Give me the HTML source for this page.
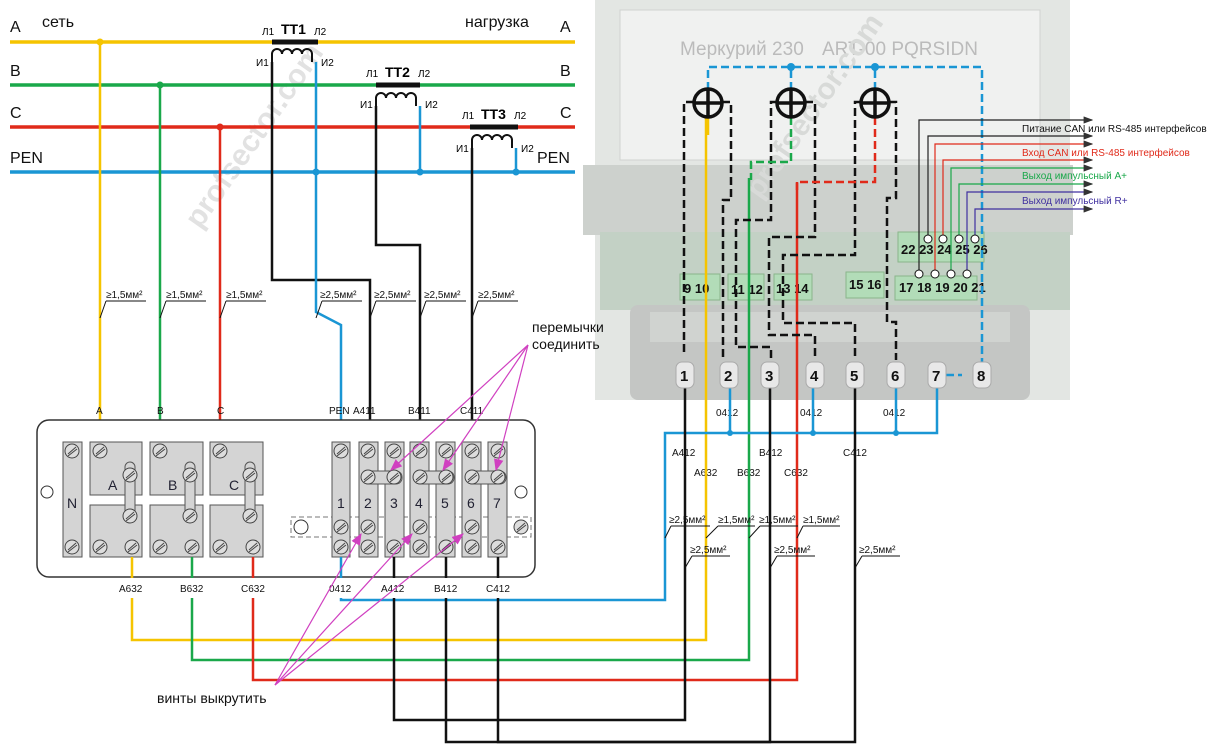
<!DOCTYPE html>
<html><head><meta charset="utf-8"><style>
body{margin:0;background:#fff}
svg{display:block;font-family:"Liberation Sans",sans-serif}
</style></head><body>
<svg width="1211" height="755" viewBox="0 0 1211 755" xmlns="http://www.w3.org/2000/svg">
<defs>
<marker id="ar" markerWidth="8" markerHeight="6" refX="7" refY="3" orient="auto"><path d="M0,0 L8,3 L0,6z" fill="#333"/></marker>
<marker id="am" markerWidth="10" markerHeight="8" refX="9" refY="4" orient="auto"><path d="M0,0 L10,4 L0,8z" fill="#d040c0"/></marker>
<g id="scr"><circle r="7" fill="#ddd" stroke="#444" stroke-width="1"/><line x1="-4" y1="3" x2="4" y2="-4" stroke="#444"/><line x1="-4" y1="5" x2="5" y2="-2" stroke="#444"/></g>
</defs>
<!-- meter photo approximation -->
<rect x="595" y="0" width="475" height="400" fill="#e3e6e3"/>
<rect x="620" y="10" width="420" height="150" fill="#f0f1f0" stroke="#d0d3d0"/>
<rect x="583" y="165" width="490" height="70" fill="#cdd1cd"/>
<rect x="600" y="232" width="470" height="78" fill="#c3d1c5"/>
<rect x="630" y="305" width="400" height="95" rx="8" fill="#c4c6c4"/>
<rect x="650" y="312" width="360" height="30" fill="#d0d3d0"/>
<text x="680" y="55" font-size="19" fill="#bbb">Меркурий 230</text>
<text x="822" y="55" font-size="19" fill="#bbb">ART-00 PQRSIDN</text>
<text x="200" y="230" font-size="30" fill="#e2e2e2" font-weight="bold" transform="rotate(-55 200 230)">profsector.com</text>
<text x="760" y="200" font-size="30" fill="#d8dad8" font-weight="bold" transform="rotate(-55 760 200)">profsector.com</text>
<!-- green connector blocks -->
<g fill="#b2dcb8" stroke="#8ab58a">
<rect x="680" y="274" width="40" height="26"/><rect x="728" y="274" width="36" height="26"/><rect x="774" y="274" width="38" height="26"/><rect x="846" y="272" width="38" height="26"/><rect x="895" y="276" width="82" height="24"/><rect x="898" y="232" width="86" height="30"/></g>
<g font-size="13" font-weight="bold" fill="#111">
<text x="684" y="293">9 10</text><text x="731" y="294">11 12</text><text x="776" y="293">13 14</text><text x="849" y="289">15 16</text><text x="899" y="292">17 18 19 20 21</text><text x="901" y="254">22 23 24 25 26</text></g>
<!-- phase lines -->
<g stroke-width="3.5" fill="none">
<line x1="10" y1="42" x2="575" y2="42" stroke="#f5c400"/>
<line x1="10" y1="85" x2="575" y2="85" stroke="#1aa84a"/>
<line x1="10" y1="127" x2="575" y2="127" stroke="#e02a1a"/>
<line x1="10" y1="172" x2="575" y2="172" stroke="#1a96d4"/>
</g>
<g font-size="16" fill="#111"><text x="10" y="32">A</text><text x="42" y="27">сеть</text><text x="465" y="27">нагрузка</text><text x="560" y="32">A</text>
<text x="10" y="76">B</text><text x="560" y="76">B</text><text x="10" y="118">C</text><text x="560" y="118">C</text><text x="10" y="163">PEN</text><text x="537" y="163">PEN</text></g>
<!-- CTs -->
<g stroke="#111" stroke-width="5"><line x1="272" y1="42" x2="318" y2="42"/><line x1="376" y1="85" x2="420" y2="85"/><line x1="470" y1="127" x2="518" y2="127"/></g>
<g font-size="14" font-weight="bold"><text x="281" y="34">ТТ1</text><text x="385" y="77">ТТ2</text><text x="481" y="119">ТТ3</text></g>
<g font-size="10"><text x="262" y="35">Л1</text><text x="314" y="35">Л2</text><text x="256" y="66">И1</text><text x="321" y="66">И2</text>
<text x="366" y="77">Л1</text><text x="418" y="77">Л2</text><text x="360" y="108">И1</text><text x="425" y="108">И2</text>
<text x="462" y="119">Л1</text><text x="514" y="119">Л2</text><text x="456" y="152">И1</text><text x="521" y="152">И2</text></g>
<g stroke="#111" stroke-width="2" fill="none">
<path d="M272,62 v-8 a5,5 0 0 1 10,0 a5,5 0 0 1 10,0 a5,5 0 0 1 10,0 a5,5 0 0 1 10,0 v8"/>
<path d="M376,106 v-8 a5,5 0 0 1 10,0 a5,5 0 0 1 10,0 a5,5 0 0 1 10,0 a5,5 0 0 1 10,0 v8"/>
<path d="M472,148 v-8 a5,5 0 0 1 10,0 a5,5 0 0 1 10,0 a5,5 0 0 1 10,0 a5,5 0 0 1 10,0 v8"/>
</g>
<g fill="none" stroke-width="2.5">
<path d="M272,62 V280 H370 V442" stroke="#111"/>
<path d="M376,106 V245 H420 V442" stroke="#111"/>
<path d="M472,148 V442" stroke="#111"/>
<path d="M316,62 V312 L341,325 V442" stroke="#1a96d4"/>
<path d="M420,106 V172" stroke="#1a96d4"/>
<path d="M516,148 V172" stroke="#1a96d4"/>
<path d="M100,42 V442" stroke="#f5c400"/>
<path d="M160,85 V442" stroke="#1aa84a"/>
<path d="M220,127 V442" stroke="#e02a1a"/>
</g>
<g fill="#111"><circle cx="100" cy="42" r="3.5" fill="#f5c400"/><circle cx="160" cy="85" r="3.5" fill="#1aa84a"/><circle cx="220" cy="127" r="3.5" fill="#e02a1a"/><circle cx="316" cy="172" r="3.5" fill="#1a96d4"/><circle cx="420" cy="172" r="3.5" fill="#1a96d4"/><circle cx="516" cy="172" r="3.5" fill="#1a96d4"/></g>
<!-- gauge labels -->
<g font-size="10" fill="#111" stroke="#111" stroke-width="1">
<g><line x1="100" y1="318" x2="106" y2="301"/><line x1="106" y1="301" x2="146" y2="301"/><text x="106" y="298" stroke="none">≥1,5мм²</text></g>
<g><line x1="160" y1="318" x2="166" y2="301"/><line x1="166" y1="301" x2="206" y2="301"/><text x="166" y="298" stroke="none">≥1,5мм²</text></g>
<g><line x1="220" y1="318" x2="226" y2="301"/><line x1="226" y1="301" x2="266" y2="301"/><text x="226" y="298" stroke="none">≥1,5мм²</text></g>
<g><line x1="316" y1="318" x2="322" y2="301"/><line x1="322" y1="301" x2="362" y2="301"/><text x="320" y="298" stroke="none">≥2,5мм²</text></g>
<g><line x1="370" y1="318" x2="376" y2="301"/><line x1="376" y1="301" x2="416" y2="301"/><text x="374" y="298" stroke="none">≥2,5мм²</text></g>
<g><line x1="420" y1="318" x2="426" y2="301"/><line x1="426" y1="301" x2="466" y2="301"/><text x="424" y="298" stroke="none">≥2,5мм²</text></g>
<g><line x1="472" y1="318" x2="478" y2="301"/><line x1="478" y1="301" x2="518" y2="301"/><text x="478" y="298" stroke="none">≥2,5мм²</text></g>
</g>
<!-- terminal box -->
<rect x="37" y="420" width="498" height="157" rx="12" fill="#fff" stroke="#333" stroke-width="1.5"/>
<circle cx="47" cy="492" r="6" fill="#fff" stroke="#333"/><circle cx="521" cy="492" r="6" fill="#fff" stroke="#333"/>
<rect x="291" y="517" width="240" height="20" fill="none" stroke="#777" stroke-dasharray="5,3"/>
<circle cx="301" cy="527" r="7" fill="#fff" stroke="#333"/>
<g fill="#d4d4d4" stroke="#555">
<rect x="63" y="442" width="19" height="115"/>
<rect x="90" y="442" width="52" height="53"/><rect x="90" y="505" width="52" height="52"/>
<rect x="150" y="442" width="53" height="53"/><rect x="150" y="505" width="53" height="52"/>
<rect x="210" y="442" width="53" height="53"/><rect x="210" y="505" width="53" height="52"/>
<rect x="332" y="442" width="18" height="115"/><rect x="359" y="442" width="19" height="115"/><rect x="385" y="442" width="19" height="115"/><rect x="410" y="442" width="19" height="115"/><rect x="436" y="442" width="19" height="115"/><rect x="462" y="442" width="19" height="115"/><rect x="488" y="442" width="19" height="115"/>
<rect x="125" y="462" width="10" height="60" rx="5"/><rect x="185" y="462" width="10" height="60" rx="5"/><rect x="245" y="462" width="10" height="60" rx="5"/>
<rect x="362" y="471" width="40" height="13" rx="6"/><rect x="414" y="471" width="40" height="13" rx="6"/><rect x="466" y="471" width="40" height="13" rx="6"/>
</g>
<g>
<use href="#scr" x="72" y="451"/><use href="#scr" x="72" y="547"/>
<use href="#scr" x="100" y="451"/><use href="#scr" x="100" y="547"/><use href="#scr" x="132" y="547"/><use href="#scr" x="130" y="475"/><use href="#scr" x="130" y="516"/>
<use href="#scr" x="160" y="451"/><use href="#scr" x="160" y="547"/><use href="#scr" x="192" y="547"/><use href="#scr" x="190" y="475"/><use href="#scr" x="190" y="516"/>
<use href="#scr" x="220" y="451"/><use href="#scr" x="220" y="547"/><use href="#scr" x="253" y="547"/><use href="#scr" x="250" y="475"/><use href="#scr" x="250" y="516"/>
<use href="#scr" x="341" y="451"/><use href="#scr" x="341" y="527"/><use href="#scr" x="341" y="547"/>
<use href="#scr" x="368" y="451"/><use href="#scr" x="368" y="477"/><use href="#scr" x="368" y="527"/><use href="#scr" x="368" y="547"/>
<use href="#scr" x="394" y="451"/><use href="#scr" x="394" y="477"/><use href="#scr" x="394" y="547"/>
<use href="#scr" x="420" y="451"/><use href="#scr" x="420" y="477"/><use href="#scr" x="420" y="527"/><use href="#scr" x="420" y="547"/>
<use href="#scr" x="446" y="451"/><use href="#scr" x="446" y="477"/><use href="#scr" x="446" y="547"/>
<use href="#scr" x="472" y="451"/><use href="#scr" x="472" y="477"/><use href="#scr" x="472" y="527"/><use href="#scr" x="472" y="547"/>
<use href="#scr" x="498" y="451"/><use href="#scr" x="498" y="477"/><use href="#scr" x="498" y="547"/>
<use href="#scr" x="521" y="527"/>
</g>
<g font-size="14" fill="#223"><text x="67" y="508">N</text><text x="108" y="490">A</text><text x="168" y="490">B</text><text x="229" y="490">C</text>
<text x="337" y="508">1</text><text x="364" y="508">2</text><text x="390" y="508">3</text><text x="415" y="508">4</text><text x="441" y="508">5</text><text x="467" y="508">6</text><text x="493" y="508">7</text></g>
<g font-size="10" fill="#111"><text x="96" y="414">A</text><text x="157" y="414">B</text><text x="217" y="414">C</text><text x="329" y="414">PEN</text><text x="353" y="414">A411</text><text x="408" y="414">B411</text><text x="460" y="414">C411</text>
<text x="119" y="592">A632</text><text x="180" y="592">B632</text><text x="241" y="592">C632</text><text x="329" y="592">0412</text><text x="381" y="592">A412</text><text x="434" y="592">B412</text><text x="486" y="592">C412</text>
<text x="716" y="416">0412</text><text x="800" y="416">0412</text><text x="883" y="416">0412</text>
<text x="672" y="456">A412</text><text x="694" y="476">A632</text><text x="737" y="476">B632</text><text x="759" y="456">B412</text><text x="784" y="476">C632</text><text x="843" y="456">C412</text></g>
<!-- bottom wiring -->
<g fill="none" stroke-width="2.5">
<path d="M132,557 V578 M132,598 V640 H706 V115" stroke="#f5c400"/>
<path d="M192,557 V578 M192,598 V660 H749 V178" stroke="#1aa84a"/>
<path d="M253,557 V578 M253,598 V680 H797 V182" stroke="#e02a1a"/>
<path d="M341,557 V578 M341,598 V600 H665 V433 H937 V372" stroke="#1a96d4"/>
<path d="M394,557 V578 M394,598 V720 H685 V385" stroke="#111"/>
<path d="M446,557 V578 M446,598 V742 H770 V385" stroke="#111"/>
<path d="M498,557 V578 M498,598 V742 H855 V385" stroke="#111"/>
<path d="M730,385 V433 M813,385 V433 M896,385 V433" stroke="#1a96d4"/>
</g>
<g fill="#1a96d4"><circle cx="730" cy="433" r="3"/><circle cx="813" cy="433" r="3"/><circle cx="896" cy="433" r="3"/><circle cx="791" cy="67" r="4"/><circle cx="875" cy="67" r="4"/></g>
<!-- dashed meter wiring -->
<g fill="none" stroke-width="2.5" stroke-dasharray="8,4">
<path d="M708,90 V67 H982 V372" stroke="#1a96d4"/>
<path d="M791,90 V67 M875,90 V67" stroke="#1a96d4"/>
<path d="M946,375 H962" stroke="#1a96d4"/>
<path d="M694,102 H684 V353 M722,102 H731 V200 H723 V360" stroke="#111"/>
<path d="M777,102 H771 V220 H736 V347 H771 V360 M805,102 H815 V237 H769 V335 H815 V360" stroke="#111"/>
<path d="M861,102 H855 V255 H783 V323 H855 V360 M889,102 H896 V198 H887 V322 H896 V360" stroke="#111"/>
<path d="M791,117 V162 H751 V180" stroke="#1aa84a"/>
<path d="M875,117 V182 H797 V190" stroke="#e02a1a"/>
</g>
<line x1="708" y1="117" x2="708" y2="135" stroke="#f5c400" stroke-width="2.5"/>
<g fill="none" stroke="#111" stroke-width="3.5"><circle cx="708" cy="103" r="14"/><circle cx="791" cy="103" r="14"/><circle cx="875" cy="103" r="14"/>
<path d="M694,103 H722 M708,89 V117 M777,103 H805 M791,89 V117 M861,103 H889 M875,89 V117"/></g>
<!-- meter terminals -->
<g fill="#e8e8e8" stroke="#aaa"><rect x="676" y="362" width="18" height="26" rx="6"/><rect x="720" y="362" width="18" height="26" rx="6"/><rect x="761" y="362" width="18" height="26" rx="6"/><rect x="806" y="362" width="18" height="26" rx="6"/><rect x="846" y="362" width="18" height="26" rx="6"/><rect x="887" y="362" width="18" height="26" rx="6"/><rect x="928" y="362" width="18" height="26" rx="6"/><rect x="973" y="362" width="18" height="26" rx="6"/></g>
<g font-size="15" font-weight="bold" fill="#111"><text x="680" y="381">1</text><text x="724" y="381">2</text><text x="765" y="381">3</text><text x="810" y="381">4</text><text x="850" y="381">5</text><text x="891" y="381">6</text><text x="932" y="381">7</text><text x="977" y="381">8</text></g>
<!-- interface leads -->
<g fill="none" stroke-width="1.2">
<path d="M919,272 V120 H1092" stroke="#222" marker-end="url(#ar)"/>
<path d="M928,238 V136 H1092" stroke="#222" marker-end="url(#ar)"/>
<path d="M935,272 V144 H1092" stroke="#e02a1a" marker-end="url(#ar)"/>
<path d="M943,238 V160 H1092" stroke="#e02a1a" marker-end="url(#ar)"/>
<path d="M951,272 V168 H1092" stroke="#1aa84a" marker-end="url(#ar)"/>
<path d="M959,238 V184 H1092" stroke="#1aa84a" marker-end="url(#ar)"/>
<path d="M967,272 V192 H1092" stroke="#4030a0" marker-end="url(#ar)"/>
<path d="M975,238 V209 H1092" stroke="#4030a0" marker-end="url(#ar)"/>
</g>
<g fill="#fff" stroke="#111"><circle cx="919" cy="274" r="4"/><circle cx="935" cy="274" r="4"/><circle cx="951" cy="274" r="4"/><circle cx="967" cy="274" r="4"/><circle cx="928" cy="239" r="4"/><circle cx="943" cy="239" r="4"/><circle cx="959" cy="239" r="4"/><circle cx="975" cy="239" r="4"/></g>
<g font-size="10"><text x="1022" y="132" fill="#111">Питание CAN или RS-485 интерфейсов</text><text x="1022" y="156" fill="#e02a1a">Вход CAN или RS-485 интерфейсов</text><text x="1022" y="179" fill="#1aa84a">Выход импульсный A+</text><text x="1022" y="204" fill="#4030a0">Выход импульсный R+</text></g>
<!-- gauge labels bottom -->
<g font-size="10" fill="#111" stroke="#111" stroke-width="1">
<g><line x1="665" y1="538" x2="671" y2="526"/><line x1="671" y1="526" x2="710" y2="526"/><text x="669" y="523" stroke="none">≥2,5мм²</text></g>
<g><line x1="706" y1="538" x2="718" y2="526"/><line x1="718" y1="526" x2="755" y2="526"/><text x="718" y="523" stroke="none">≥1,5мм²</text></g>
<g><line x1="749" y1="538" x2="760" y2="526"/><line x1="760" y1="526" x2="798" y2="526"/><text x="759" y="523" stroke="none">≥1,5мм²</text></g>
<g><line x1="797" y1="538" x2="803" y2="526"/><line x1="803" y1="526" x2="840" y2="526"/><text x="803" y="523" stroke="none">≥1,5мм²</text></g>
<g><line x1="685" y1="568" x2="692" y2="556"/><line x1="692" y1="556" x2="730" y2="556"/><text x="690" y="553" stroke="none">≥2,5мм²</text></g>
<g><line x1="770" y1="568" x2="777" y2="556"/><line x1="777" y1="556" x2="815" y2="556"/><text x="774" y="553" stroke="none">≥2,5мм²</text></g>
<g><line x1="855" y1="568" x2="862" y2="556"/><line x1="862" y1="556" x2="900" y2="556"/><text x="859" y="553" stroke="none">≥2,5мм²</text></g>
</g>
<!-- annotations -->
<g stroke="#d040c0" stroke-width="1.2" fill="none">
<line x1="528" y1="345" x2="391" y2="470" marker-end="url(#am)"/>
<line x1="528" y1="345" x2="443" y2="470" marker-end="url(#am)"/>
<line x1="528" y1="345" x2="496" y2="470" marker-end="url(#am)"/>
<line x1="275" y1="685" x2="361" y2="534" marker-end="url(#am)"/>
<line x1="275" y1="685" x2="412" y2="534" marker-end="url(#am)"/>
<line x1="275" y1="685" x2="463" y2="534" marker-end="url(#am)"/>
</g>
<g font-size="14" fill="#111"><text x="532" y="332">перемычки</text><text x="532" y="349">соединить</text><text x="157" y="703">винты выкрутить</text></g>
</svg>
</body></html>
